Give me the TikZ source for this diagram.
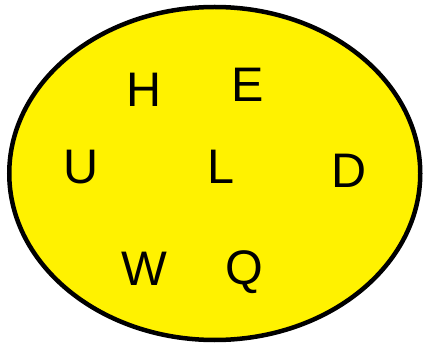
\documentclass[tikz,border=0pt]{standalone}
\usepackage{fontspec}
\setmainfont{Liberation Sans}
\usetikzlibrary{shapes.geometric}
\begin{document}
\begin{tikzpicture}[x=1pt,y=-1pt,
  letter/.style={font=\fontsize{48.5}{48.5}\selectfont, inner sep=0pt, anchor=base}]
\useasboundingbox (0,0) rectangle (423,347);
\draw[line width=4.5pt, fill=yellow] (214.75,173.5) ellipse [x radius=205.5, y radius=166.5];
\node[letter] (H) at (144.5,106.7) {H};
\node[letter] (E) at (248,101.7) {E};
\node[letter] (U) at (81,183.5) {U};
\node[letter] (L) at (221,184) {L};
\node[letter] (D) at (349.5,187.3) {D};
\node[letter] (W) at (144.7,286) {W};
\node[letter] (Q) at (244.3,285) {Q};
\end{tikzpicture}
\end{document}
